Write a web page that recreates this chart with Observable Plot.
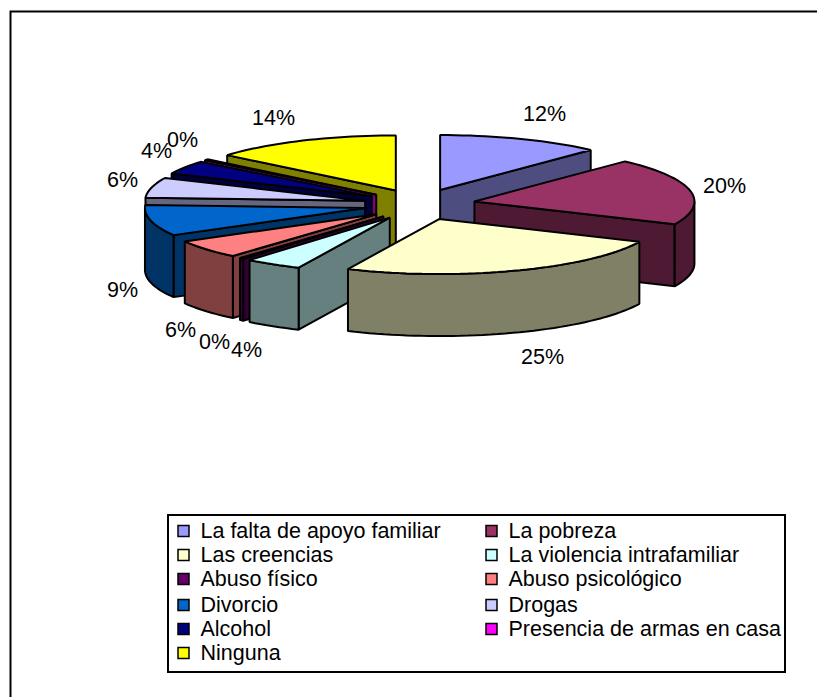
<!DOCTYPE html>
<html><head><meta charset="utf-8">
<script src="https://cdn.jsdelivr.net/npm/d3@7"></script>
<script src="https://cdn.jsdelivr.net/npm/@observablehq/plot@0.6"></script>
<style>html,body{margin:0;padding:0;background:#fff}svg{display:block}</style>
</head><body><div id="chart"></div>
<script>
const categories = ["La falta de apoyo familiar","La pobreza","Las creencias","La violencia intrafamiliar","Abuso físico","Abuso psicológico","Divorcio","Drogas","Alcohol","Presencia de armas en casa","Ninguna"];
const values = [12,19.8,25,4.2,0.3,5.5,9.1,5.9,4,0.3,13.9];
const percentLabels = ["12%","20%","25%","4%","0%","6%","9%","6%","4%","0%","14%"];
const topColors = ["#9999FF","#993366","#FFFFCC","#CCFFFF","#660066","#FF8080","#0066CC","#CCCCFF","#000080","#FF00FF","#FFFF00"];
const wallColors = ["#4D4D80","#4D1933","#808066","#668080","#330033","#804040","#003366","#666680","#000040","#800080","#808000"];
const labelX = [544,724,542,246,214,180,122,122,156,182,273];
const labelY = [114,186,357,350,342,330,290,180,151,140,118];

const W = 817, H = 697;
const cx = 419, cy = 204, rx = 220, ry = 55, depth = 62, ex = 56, ey = 15.5;
const rad = d => d * Math.PI / 180;
const total = d3.sum(values);
let acc = 0;
const slices = values.map((v, i) => {
  const a0 = acc / total * 360; acc += v; const a1 = acc / total * 360;
  const mid = rad((a0 + a1) / 2);
  return {i, a0, a1, ax: cx + ex * Math.sin(mid), ay: cy - ey * Math.cos(mid), order: Math.cos(mid)};
});
const pt = (s, a, dz = 0) => ({x: s.ax + rx * Math.sin(rad(a)), y: s.ay - ry * Math.cos(rad(a)) + dz});
const arc = (s, a, b, dz = 0) => {
  const n = Math.max(2, Math.ceil(Math.abs(b - a) / 2)), out = [];
  for (let k = 0; k <= n; k++) out.push(pt(s, a + (b - a) * k / n, dz));
  return out;
};
const polys = [];
let z = 0;
const add = (pts, fill) => { z++; pts.forEach(p => polys.push({...p, z, fill})); };
for (const s of [...slices].sort((p, q) => q.order - p.order)) {
  const apex = {x: s.ax, y: s.ay}, apexB = {x: s.ax, y: s.ay + depth};
  const wall = wallColors[s.i];
  if (Math.sin(rad(s.a0)) < -1e-6) add([apex, pt(s, s.a0), pt(s, s.a0, depth), apexB], wall);
  if (Math.sin(rad(s.a1)) > 1e-6) add([apex, pt(s, s.a1), pt(s, s.a1, depth), apexB], wall);
  const f0 = Math.max(s.a0, 90), f1 = Math.min(s.a1, 270);
  if (f1 > f0) add([...arc(s, f0, f1), ...arc(s, f1, f0, depth)], wall);
  add([apex, ...arc(s, s.a0, s.a1)], topColors[s.i]);
}

const legendLeft = 168, legendTop = 515, legendRight = 785, legendBottom = 672;
const rowY = [531, 555, 579, 605, 629, 653], colX = [178, 486];
const legend = categories.map((name, i) => ({name, color: topColors[i], x: colX[i % 2], y: rowY[Math.floor(i / 2)]}));
const swatch = 11;
const labels = percentLabels.map((t, i) => ({t, x: labelX[i], y: labelY[i]}));

const plot = Plot.plot({
  width: W, height: H, margin: 0,
  x: {domain: [0, W], range: [0, W], axis: null},
  y: {domain: [0, H], range: [0, H], axis: null},
  style: {fontFamily: "Liberation Sans, Arial, sans-serif", background: "#fff"},
  marks: [
    Plot.frame({stroke: "#000", strokeWidth: 2, insetLeft: 10, insetTop: 11, insetRight: -5, insetBottom: -5}),
    Plot.line(polys, {x: "x", y: "y", z: "z", fill: "fill", stroke: "#000", strokeWidth: 2, curve: "linear-closed", strokeLinejoin: "miter"}),
    Plot.text(labels, {x: "x", y: "y", text: "t", fontSize: 21.5, fill: "#000"}),
    Plot.rect([{x1: legendLeft, x2: legendRight, y1: legendTop, y2: legendBottom}], {x1: "x1", x2: "x2", y1: "y1", y2: "y2", fill: "#fff", stroke: "#000", strokeWidth: 2}),
    Plot.rect(legend, {x1: d => d.x, x2: d => d.x + swatch, y1: d => d.y - swatch / 2, y2: d => d.y + swatch / 2, fill: "color", stroke: "#000", strokeWidth: 1.5}),
    Plot.text(legend, {x: d => d.x + 22, y: "y", text: "name", textAnchor: "start", fontSize: 21.5, fill: "#000"})
  ]
});
document.getElementById("chart").append(plot);
</script></body></html>
